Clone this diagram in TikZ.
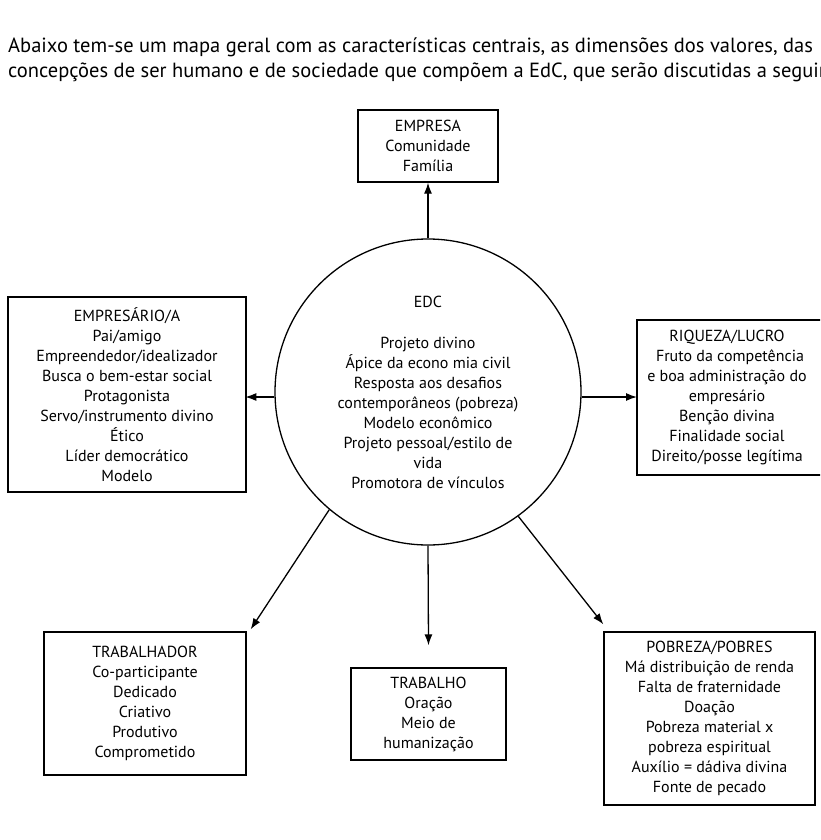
\documentclass[tikz,border=0pt]{standalone}
\usepackage{fontspec}
\setmainfont{PT Sans}
\usetikzlibrary{arrows.meta}
\tikzset{
  box/.style={draw,line width=1.3pt,align=center,inner sep=0pt,font=\fontsize{16}{20}\selectfont},
  link/.style={line width=1.3pt,-{Latex[length=11pt,width=8pt]}}
}
\begin{document}
\begin{tikzpicture}[x=1pt,y=-1pt]
  \useasboundingbox (0,0) rectangle (820,840);
  \fill[white] (0,0) rectangle (820,840);
  \clip (0,0) rectangle (820,840);
  % intro text
  \node[anchor=west,font=\fontsize{20.5}{25}\selectfont,align=left,inner sep=0pt] (intro) at (8,60)
    {Abaixo tem-se um mapa geral com as características centrais, as dimensões dos valores, das\\
     concepções de ser humano e de sociedade que compõem a EdC, que serão discutidas a seguir};
  % centre
  \node[draw,line width=1.3pt,circle,minimum size=306pt,align=center,font=\fontsize{16}{20}\selectfont] (edc) at (428,392)
    {EDC\\[21pt]Projeto divino\\Ápice da econo mia civil\\Resposta aos desafios\\contemporâneos (pobreza)\\
     Modelo econômico\\Projeto pessoal/estilo de\\vida\\Promotora de vínculos};
  % boxes
  \node[box,minimum width=140pt,minimum height=72pt] (empresa) at (428,146)
    {EMPRESA\\Comunidade\\Família};
  \node[box,minimum width=238pt,minimum height=195pt] (empresario) at (127,394.5)
    {EMPRESÁRIO/A\\Pai/amigo\\Empreendedor/idealizador\\Busca o bem-estar social\\Protagonista\\
     Servo/instrumento divino\\Ético\\Líder democrático\\Modelo};
  \draw[line width=1.3pt] (825,320) -| (637,475) -- (825,475);
  \coordinate (riqueza) at (637,397);
  \node[font=\fontsize{16}{20}\selectfont,align=center] (riquezatxt) at (727,397.5)
    {RIQUEZA/LUCRO\\\hspace*{6pt}Fruto da competência\\e boa administração do\\empresário\\Benção divina\\
     Finalidade social\\Direito/posse legítima};
  \node[box,minimum width=202pt,minimum height=143pt] (trabalhador) at (145,703.5)
    {TRABALHADOR\\Co-participante\\Dedicado\\Criativo\\Produtivo\\Comprometido};
  \node[box,minimum width=155pt,minimum height=92pt] (trabalho) at (428.5,714)
    {TRABALHO\\Oração\\Meio de\\humanização};
  \node[box,minimum width=211pt,minimum height=173pt] (pobreza) at (709.5,718.5)
    {POBREZA/POBRES\\Má distribuição de renda\\Falta de fraternidade\\Doação\\Pobreza material x\\
     pobreza espiritual\\Auxílio = dádiva divina\\Fonte de pecado};
  % arrows
  \draw[link] (edc.north) -- (empresa.south);
  \draw[link] (edc.west) ++(0,5) -- ++(-29,0);
  \draw[link] (edc.east) ++(0,5) -- (riqueza);
  \draw[link] (edc.-130) -- ([shift={(4,-2)}]trabalhador.north east);
  \draw[link] (edc.south) -- ([yshift=22pt]trabalho.north);
  \draw[link] (edc.-54) -- ([yshift=7pt]pobreza.north west);
\end{tikzpicture}
\end{document}
